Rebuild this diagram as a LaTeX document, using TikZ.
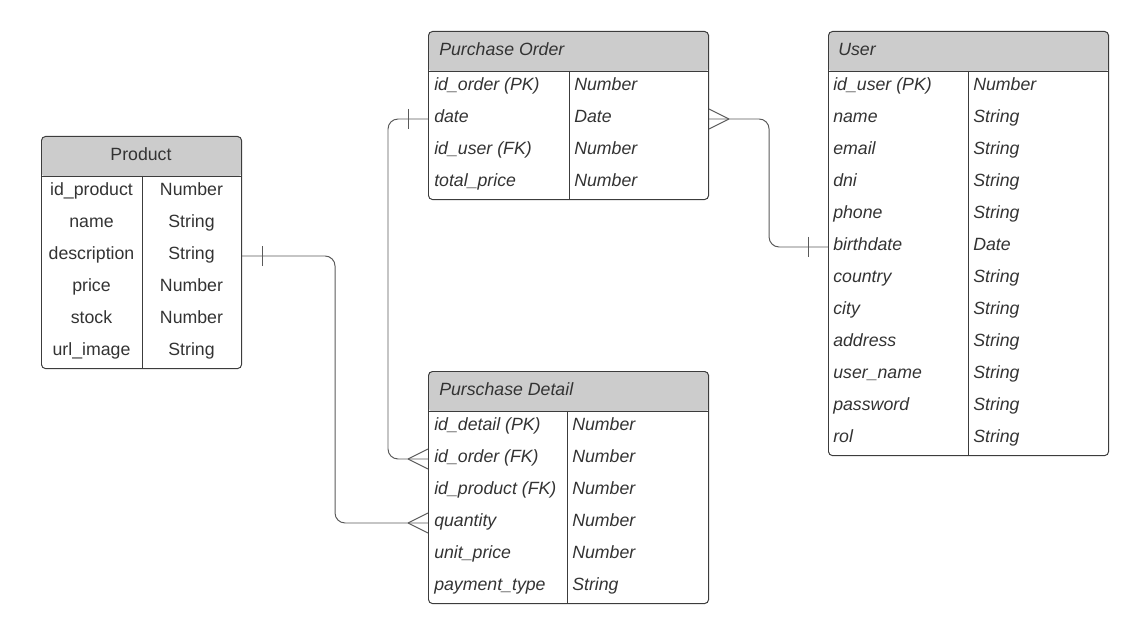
\documentclass[tikz,border=0pt]{standalone}
\usepackage{fontspec}
\setmainfont{Liberation Sans}
\definecolor{rulegray}{HTML}{3C3C3C}
\definecolor{linkgray}{HTML}{5A5A5A}
\definecolor{headgray}{HTML}{CCCCCC}
\definecolor{textgray}{HTML}{333333}
\newcommand\fieldfont{\fontsize{12.6}{14}\selectfont}

\tikzset{
  erbox/.style={draw=rulegray, line width=0.7pt, rounded corners=0.1cm, anchor=north west, inner sep=0pt,
    path picture={
      \fill[headgray] (path picture bounding box.north west) rectangle ([yshift=-1cm]path picture bounding box.north east);
      \draw[rulegray, line width=0.7pt] ([yshift=-1cm]path picture bounding box.north west) -- ([yshift=-1cm]path picture bounding box.north east);
    }},
  field/.style={inner sep=0pt, anchor=west, text=textgray, font=\fieldfont\itshape, text height=0.72em, text depth=0.25em},
  fieldc/.style={field, anchor=center, font=\fieldfont},
  colrule/.style={draw=rulegray, line width=0.7pt},
  link/.style={draw=linkgray, line width=0.7pt},
  crowfoot/.pic={\draw[link] (-20,0) -- (0,-10) (-20,0) -- (0,10);},
  onebar/.pic={\draw[link] (-20,-10) -- (-20,10);},
}

\begin{document}
\begin{tikzpicture}[x=0.025cm, y=-0.025cm]
\useasboundingbox (0,0) rectangle (1148,636);

% Product
\node[erbox, minimum width=5cm, minimum height=5.8cm] (Product) at (41,136) {};
\node[fieldc] (Product-head) at (141,157) {Product};
\draw[colrule] (142,176) -- (142,369);
\foreach \a/\b [count=\i] in {id\_product/Number, name/String, description/String, price/Number, stock/Number, url\_image/String}
{
  \node[fieldc] (Product-a\i) at (91.5,160+32*\i) {\a};
  \node[fieldc] (Product-b\i) at (191.5,160+32*\i) {\b};
}

% Purchase Order
\node[erbox, minimum width=7cm, minimum height=4.2cm] (Order) at (428,31) {};
\node[field] (Order-head) at (439,52) {Purchase Order};
\draw[colrule] (569,71) -- (569,199);
\foreach \a/\b [count=\i] in {id\_order (PK)/Number, date/Date, id\_user (FK)/Number, total\_price/Number}
{
  \node[field] (Order-a\i) at (434,55+32*\i) {\a};
  \node[field] (Order-b\i) at (574,55+32*\i) {\b};
}

% User
\node[erbox, minimum width=7cm, minimum height=10.6cm] (User) at (828,31) {};
\node[field] (User-head) at (838,52) {User};
\draw[colrule] (968,71) -- (968,455);
\foreach \a/\b [count=\i] in {id\_user (PK)/Number, name/String, email/String, dni/String, phone/String, birthdate/Date,
  country/String, city/String, address/String, user\_name/String, password/String, rol/String}
{
  \node[field] (User-a\i) at (833,55+32*\i) {\a};
  \node[field] (User-b\i) at (973,55+32*\i) {\b};
}

% Purschase Detail
\node[erbox, minimum width=7cm, minimum height=5.8cm] (Detail) at (428,371) {};
\node[field] (Detail-head) at (439,392) {Purschase Detail};
\draw[colrule] (567,411) -- (567,603);
\foreach \a/\b [count=\i] in {id\_detail (PK)/Number, id\_order (FK)/Number, id\_product (FK)/Number, quantity/Number,
  unit\_price/Number, payment\_type/String}
{
  \node[field] (Detail-a\i) at (434,395+32*\i) {\a};
  \node[field] (Detail-b\i) at (572,395+32*\i) {\b};
}

% relations
\draw[link, rounded corners=0.25cm] (Product.east |- Product-a3) -- ++(93,0) |- (Detail.west |- Detail-a4);
\pic[rotate=180] at (Product.east |- Product-a3) {onebar};
\pic at (Detail.west |- Detail-a4) {crowfoot};

\draw[link, rounded corners=0.25cm] (Order.west |- Order-a2) -- ++(-40,0) |- (Detail.west |- Detail-a2);
\pic at (Order.west |- Order-a2) {onebar};
\pic at (Detail.west |- Detail-a2) {crowfoot};

\draw[link, rounded corners=0.25cm] (Order.east |- Order-a2) -- ++(60,0) |- (User.west |- User-a6);
\pic[rotate=180] at (Order.east |- Order-a2) {crowfoot};
\pic at (User.west |- User-a6) {onebar};
\end{tikzpicture}
\end{document}
